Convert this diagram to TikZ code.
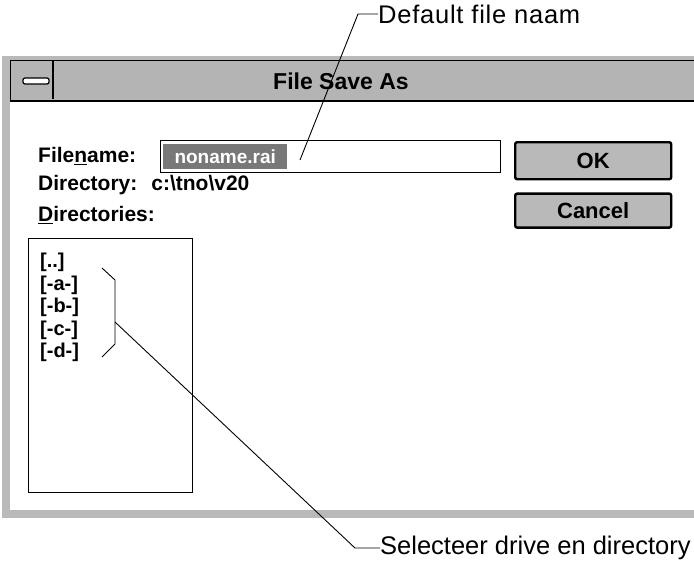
\documentclass[tikz,border=0pt]{standalone}
\usepackage{fontspec}
\setmainfont{Liberation Sans}
\usepackage{tikz}
\usetikzlibrary{positioning,calc}
\definecolor{WinGray}{RGB}{185,185,185}
\definecolor{TitleGray}{RGB}{180,180,180}
\definecolor{SelGray}{RGB}{120,120,120}
\tikzset{
    dlgtext/.style={anchor=west, inner sep=0pt, font=\bfseries\fontsize{21}{24}\selectfont},
    listentry/.style={anchor=west, inner sep=0pt, font=\bfseries\fontsize{20}{22}\selectfont},
    callout/.style={anchor=west, inner sep=0pt, font=\fontsize{25.5}{29}\selectfont},
    winbutton/.style={draw=black, line width=2.4pt, rounded corners=2pt, fill=WinGray,
        minimum width=156pt, inner sep=0pt, font=\bfseries\fontsize{22}{24}\selectfont},
    leader/.style={draw=black, line width=0.9pt}
}

\begin{document}
\begin{tikzpicture}[x=1pt, y=-1pt]
        \useasboundingbox (0,0) rectangle (694,576);

        % --- VENSTER ---
        \fill[WinGray] (2,56) rectangle (694,518);
        \fill[white] (10,100) rectangle (694,510);
        \node[fill=TitleGray, draw=black, line width=1pt, anchor=north west, minimum width=690pt,
              minimum height=40pt, inner sep=0pt] (titlebar) at (10,60) {};
        \draw[black, line width=1.6pt] (titlebar.south west) -- (titlebar.south east);
        \draw[black, line width=1.6pt] (53,60) -- (53,99);
        \draw[black, line width=1.2pt, fill=white, rounded corners=2pt] (23,78) rectangle (49,84);
        \node[font=\bfseries\fontsize{23}{26}\selectfont] (title) at (341,81) {File Save As};

        % --- BESTANDSNAAM ---
        \node[dlgtext] (fnlabel) at (38,156) {File\underline{n}ame:};
        \node[draw=black, line width=1pt, minimum width=340pt, minimum height=32pt,
              anchor=north west] (fnfield) at (160,140) {};
        \node[fill=SelGray, text=white, minimum width=124pt, minimum height=25pt, anchor=west,
              inner sep=0pt, font=\bfseries\fontsize{19}{21}\selectfont] (fnsel)
              at ([xshift=3pt]fnfield.west) {noname.rai};
        \node[winbutton, minimum height=37pt, anchor=north west] (okbtn) at (514,141) {OK};
        \node[winbutton, minimum height=34pt, below=12pt of okbtn] (cancelbtn) {Cancel};

        \node[dlgtext] (dirlabel) at (38,185) {Directory:\hspace{14pt}c:\textbackslash tno\textbackslash v20};
        \node[dlgtext] (dirslabel) at (38,215) {\underline{D}irectories:};

        % --- LIJST MET DIRECTORIES ---
        \node[draw=black, line width=1pt, minimum width=164pt, minimum height=254pt,
              anchor=north west] (dirlist) at (28,238) {};
        \foreach \name/\ypos in {{[..]}/262, {[-a-]}/285, {[-b-]}/307, {[-c-]}/330, {[-d-]}/352}
            \node[listentry] at (40,\ypos) {\name};

        % accolade rond de drives
        \draw[black, line width=0.9pt] (102,268) -- (115,280) -- (115,344) -- (102,357);
        \coordinate (brace) at (115,322);

        % --- TOELICHTINGEN ---
        \coordinate (fnpoint) at (300,160);
        \node[callout, font={\fontsize{25.5}{29}\selectfont\addfontfeature{LetterSpace=3}}]
              (deflabel) at (378,14) {Default file naam};
        \draw[leader] (fnpoint) -- (358,14) -- (deflabel.west);

        \node[callout] (sellabel) at (380,548) {Selecteer drive en directory};
        \draw[leader] (brace) -- (355,548) -- (sellabel.west);

    \end{tikzpicture}
\end{document}
